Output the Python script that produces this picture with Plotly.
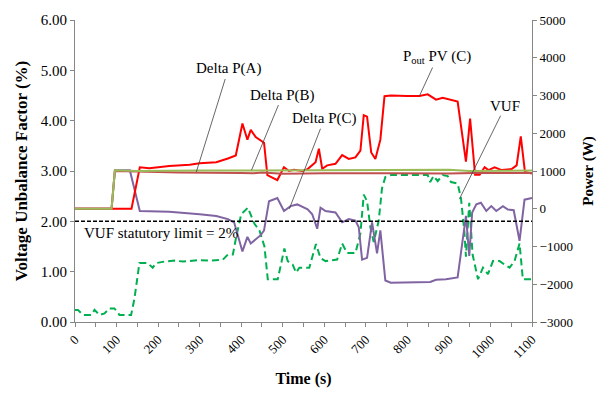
import plotly.graph_objects as go

# ---------------- data ----------------
# Pout PV (C), W (right axis)
t_pv = [0, 136, 156, 179, 227, 276, 300, 340, 368, 387, 403, 415, 423, 435, 455, 463, 487, 503,
        515, 527, 547, 560, 579, 587, 595, 607, 627, 643, 659, 675, 687, 695, 703, 713, 723, 735,
        745, 760, 800, 829, 849, 869, 885, 905, 921, 941, 951, 963, 974, 986, 995, 1010, 1027,
        1051, 1063, 1073, 1083, 1100]
p_pv = [0, 0, 1100, 1075, 1130, 1165, 1205, 1230, 1330, 1410, 2260, 1830, 2090, 1900, 1750, 890,
        760, 1100, 1000, 1030, 1000, 1050, 1230, 1590, 1060, 1150, 1190, 1420, 1320, 1360, 1540,
        2480, 2440, 1490, 1320, 1830, 2980, 3000, 2990, 2990, 3030, 2890, 2940, 2880, 2840, 1250,
        2390, 900, 900, 1100, 1025, 1100, 1025, 1050, 1150, 1920, 975, 930]

# Delta P(A), W (right axis)
t_a = [0, 88, 96, 150, 250, 400, 430, 450, 500, 600, 700, 750, 900, 960, 1100]
p_a = [0, 0, 1000, 980, 960, 950, 940, 960, 930, 940, 930, 940, 935, 950, 950]

# Delta P(B), W (right axis)
t_b = [0, 88, 96, 150, 300, 500, 700, 900, 950, 1100]
p_b = [0, 0, 1020, 1000, 1010, 1020, 1030, 1030, 1000, 1010]

# Delta P(C), W (right axis)
t_c = [0, 88, 96, 132, 156, 184, 227, 300, 340, 368, 383, 403, 415, 423, 447, 455, 467, 487, 503,
       519, 535, 560, 571, 583, 591, 603, 627, 643, 659, 675, 683, 691, 703, 715, 727, 735, 747,
       760, 839, 855, 869, 893, 921, 941, 949, 956, 966, 977, 990, 1002, 1014, 1030, 1042, 1056,
       1070, 1082, 1100]
p_c = [0, 0, 1020, 1020, -60, -70, -80, -145, -190, -275, -360, -1130, -745, -920, -700, -575, 200,
       285, -60, 70, 115, -15, -145, -530, 30, -60, -100, -360, -275, -315, -490, -1350, -1300,
       -360, -1180, -575, -1900, -1960, -1960, -1940, -1880, -1870, -1820, -190, -1250, -100, 120,
       160, -60, 70, -60, 70, -20, -40, -850, 240, 285]

# VUF, % (left axis)
t_vuf = [0, 7, 19, 39, 47, 59, 71, 83, 95, 107, 135, 143, 155, 175, 187, 195, 215, 240, 260, 280,
         300, 330, 356, 368, 380, 388, 400, 416, 432, 444, 456, 464, 488, 504, 512, 524, 532, 540,
         564, 580, 591, 603, 631, 643, 655, 675, 687, 695, 703, 711, 719, 731, 739, 747, 761, 849,
         855, 863, 873, 885, 897, 905, 921, 929, 937, 941, 949, 957, 970, 982, 994, 1006, 1022,
         1034, 1046, 1058, 1070, 1078, 1100]
v_vuf = [0.24, 0.24, 0.14, 0.14, 0.24, 0.14, 0.17, 0.27, 0.27, 0.14, 0.14, 0.46, 1.17, 1.17, 1.08,
         1.17, 1.20, 1.22, 1.20, 1.22, 1.23, 1.22, 1.24, 1.34, 1.34, 1.69, 2.14, 2.27, 1.95, 1.82,
         1.50, 0.85, 0.85, 1.46, 1.21, 1.14, 0.98, 1.08, 1.08, 1.55, 1.27, 1.21, 1.24, 1.56, 1.37,
         1.37, 1.76, 2.53, 2.40, 1.88, 1.59, 2.01, 2.66, 2.88, 2.92, 2.92, 2.78, 2.90, 2.80, 2.92,
         2.90, 2.78, 2.75, 2.46, 1.82, 1.30, 2.37, 1.34, 0.85, 1.08, 0.95, 1.21, 1.21, 1.14, 1.08,
         1.21, 1.56, 0.85, 0.85]

vuf_limit = 2.0
x_ticks = list(range(0, 1101, 100))

FONT = "Liberation Serif, Times New Roman, serif"
AXC = "#868686"

fig = go.Figure()
fig.add_trace(go.Scatter(x=t_vuf, y=v_vuf, mode="lines", name="VUF", yaxis="y",
                         line=dict(color="#00B050", width=2, dash="7px,4px")))
fig.add_trace(go.Scatter(x=t_c, y=p_c, mode="lines", name="Delta P(C)", yaxis="y2",
                         line=dict(color="#8064A2", width=2)))
fig.add_trace(go.Scatter(x=t_pv, y=p_pv, mode="lines", name="Pout PV (C)", yaxis="y2",
                         line=dict(color="#FF0000", width=2)))
fig.add_trace(go.Scatter(x=t_a, y=p_a, mode="lines", name="Delta P(A)", yaxis="y2",
                         line=dict(color="#C0504D", width=2)))
fig.add_trace(go.Scatter(x=t_b, y=p_b, mode="lines", name="Delta P(B)", yaxis="y2",
                         line=dict(color="#9BBB59", width=2)))

fig.add_shape(type="line", xref="paper", yref="y", x0=0, x1=1, y0=vuf_limit, y1=vuf_limit,
              line=dict(color="black", width=1.5, dash="4px,2px"))

ann_font = dict(family=FONT, size=15, color="black")
leader = dict(showarrow=True, arrowhead=0, arrowwidth=0.8, arrowcolor="#404040")
fig.add_annotation(x=292, y=974, yref="y2", ax=32, ay=-103, text="Delta P(A)", font=ann_font, **leader)
fig.add_annotation(x=425, y=1025, yref="y2", ax=31, ay=-75, text="Delta P(B)", font=ann_font, **leader)
fig.add_annotation(x=516, y=0, yref="y2", ax=35, ay=-90, text="Delta P(C)", font=ann_font, **leader)
fig.add_annotation(x=829, y=2986, yref="y2", ax=18, ay=-39,
                   text="P<sub>out</sub> PV (C)", font=ann_font, **leader)
fig.add_annotation(x=925, y=2.44, yref="y", ax=46, ay=-93, text="VUF", font=ann_font, **leader)
fig.add_annotation(x=16, y=1.76, yref="y", xanchor="left", showarrow=False,
                   text="VUF statutory limit = 2%", font=ann_font)

fig.update_layout(
    width=616, height=396,
    margin=dict(l=75, r=84, t=14, b=72),
    paper_bgcolor="white", plot_bgcolor="white",
    showlegend=False,
    font=dict(family=FONT, color="black"),
    xaxis=dict(range=[0, 1100], tickvals=x_ticks, tickangle=-45,
               ticks="outside", ticklen=4, tickcolor=AXC,
               minor=dict(dtick=50, ticks="outside", ticklen=4, tickcolor=AXC),
               showline=True, linecolor=AXC, linewidth=1, showgrid=False, zeroline=False,
               tickfont=dict(family=FONT, size=13),
               title=dict(text="<b>Time (s)</b>", font=dict(family=FONT, size=16), standoff=12)),
    yaxis=dict(range=[0, 6], dtick=1, tickformat=".2f", ticks="outside", ticklen=4, tickcolor=AXC,
               showline=True, linecolor=AXC, linewidth=1, showgrid=False, zeroline=False,
               tickfont=dict(family=FONT, size=15),
               title=dict(text="<b>Voltage Unbalance Factor (%)</b>",
                          font=dict(family=FONT, size=17), standoff=8)),
    yaxis2=dict(range=[-3000, 5000], dtick=1000, overlaying="y", side="right",
                ticks="outside", ticklen=4, tickcolor=AXC,
                showline=True, linecolor=AXC, linewidth=1, showgrid=False, zeroline=False,
                tickfont=dict(family=FONT, size=13),
                title=dict(text="<b>Power (W)</b>", font=dict(family=FONT, size=15), standoff=10)),
)

fig.write_html("out.html")
